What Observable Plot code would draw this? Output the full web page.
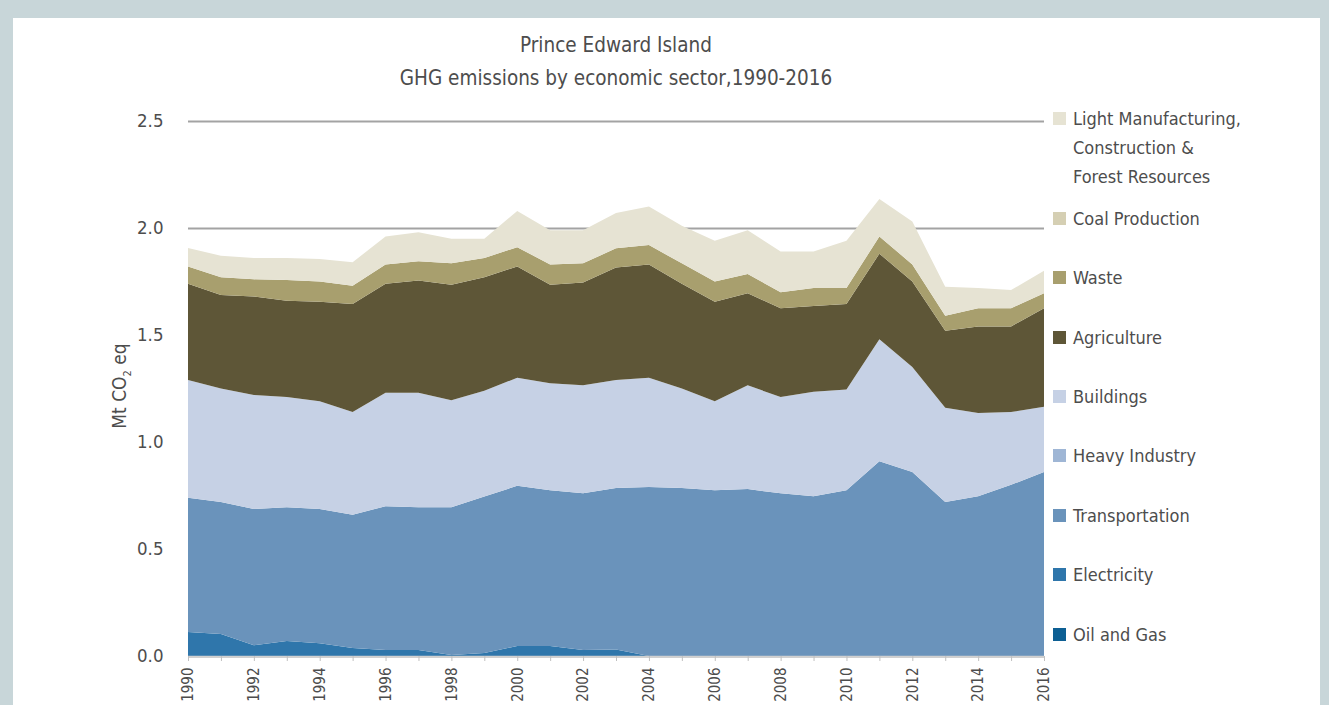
<!DOCTYPE html>
<html>
<head>
<meta charset="utf-8">
<script src="https://cdn.jsdelivr.net/npm/d3@7"></script>
<script src="https://cdn.jsdelivr.net/npm/@observablehq/plot@0.6"></script>
<style>
html, body { margin: 0; padding: 0; }
body {
  width: 1329px; height: 705px; overflow: hidden; position: relative;
  background: #c8d6d9;
  font-family: "Liberation Sans Narrow", "DejaVu Sans Condensed", "Roboto Condensed", "Open Sans", sans-serif;
  font-stretch: condensed;
  color: #4d4d4d;
}
#panel { position: absolute; left: 13px; top: 18px; width: 1307px; height: 700px; background: #fff; }
#chart { position: absolute; left: 0; top: 0; }
.title { position: absolute; left: 188px; width: 856px; text-align: center; font-size: 20.5px; line-height: 24px; white-space: nowrap; }
#ylabel { position: absolute; left: 121px; top: 386px; transform: translate(-50%, -50%) rotate(-90deg); font-size: 19px; white-space: nowrap; }
#ylabel sub { font-size: 11px; }
.leg { position: absolute; left: 1053px; font-size: 18px; line-height: 29px; white-space: nowrap; }
.leg .sw { position: absolute; left: 0; top: 8px; width: 13px; height: 13px; }
.leg .tx { position: absolute; left: 20px; top: 0; }
</style>
</head>
<body>
<div id="panel"></div>
<div id="chart"></div>
<div class="title" style="top:33px">Prince Edward Island</div>
<div class="title" style="top:66px">GHG emissions by economic sector,1990-2016</div>
<div id="ylabel">Mt CO<sub>2</sub> eq</div>
<div id="legend"></div>
<script>
const years = [1990,1991,1992,1993,1994,1995,1996,1997,1998,1999,2000,2001,2002,2003,2004,2005,2006,2007,2008,2009,2010,2011,2012,2013,2014,2015,2016];

// bottom-to-top stacking order
const sectors = ["Oil and Gas","Electricity","Transportation","Heavy Industry","Buildings","Agriculture","Waste","Coal Production","Light Manufacturing, Construction & Forest Resources"];
const sectorColors = ["#0d5f93","#2f76ab","#6a93bb","#9fb6d5","#c6d1e5","#5e5637","#a89f6e","#d5cfb3","#e6e3d3"];
const legendLabels = [["Oil and Gas"],["Electricity"],["Transportation"],["Heavy Industry"],["Buildings"],["Agriculture"],["Waste"],["Coal Production"],["Light Manufacturing,","Construction &","Forest Resources"]];

// Mt CO2 eq
const oilAndGas      = [0,0,0,0,0,0,0,0,0,0,0,0,0,0,0,0,0,0,0,0,0,0,0,0,0,0,0];
const electricity    = [0.112,0.103,0.050,0.070,0.060,0.037,0.028,0.028,0.005,0.014,0.047,0.047,0.028,0.030,0,0,0,0,0,0,0,0,0,0,0,0,0];
const transportation = [0.628,0.617,0.637,0.625,0.627,0.623,0.672,0.667,0.690,0.731,0.748,0.728,0.732,0.755,0.790,0.785,0.775,0.780,0.760,0.747,0.775,0.910,0.860,0.720,0.747,0.800,0.860];
const heavyIndustry  = [0,0,0,0,0,0,0,0,0,0,0,0,0,0,0,0,0,0,0,0,0,0,0,0,0,0,0];
const buildings      = [0.550,0.530,0.533,0.515,0.503,0.480,0.530,0.535,0.500,0.495,0.505,0.500,0.505,0.505,0.510,0.465,0.415,0.485,0.450,0.488,0.470,0.570,0.490,0.440,0.388,0.340,0.305];
const agriculture    = [0.450,0.437,0.460,0.450,0.465,0.505,0.510,0.525,0.540,0.530,0.520,0.460,0.480,0.525,0.530,0.490,0.465,0.430,0.415,0.400,0.400,0.400,0.400,0.360,0.405,0.400,0.460];
const waste          = [0.080,0.083,0.080,0.097,0.095,0.085,0.090,0.090,0.100,0.090,0.090,0.095,0.090,0.090,0.090,0.095,0.095,0.090,0.075,0.085,0.075,0.080,0.080,0.070,0.085,0.085,0.070];
const coalProduction = [0,0,0,0,0,0,0,0,0,0,0,0,0,0,0,0,0,0,0,0,0,0,0,0,0,0,0];
const lightManufacturing = [0.086,0.100,0.100,0.103,0.105,0.110,0.130,0.135,0.115,0.090,0.170,0.160,0.155,0.165,0.180,0.175,0.190,0.205,0.190,0.170,0.220,0.175,0.200,0.135,0.095,0.085,0.105];

const yTicks = [0, 0.5, 1.0, 1.5, 2.0, 2.5];

const seriesValues = [oilAndGas, electricity, transportation, heavyIndustry, buildings, agriculture, waste, coalProduction, lightManufacturing];
const data = sectors.flatMap((s, i) => years.map((yr, j) => ({year: yr, sector: s, value: seriesValues[i][j]})));

const fontFam = '"Liberation Sans Narrow", "DejaVu Sans Condensed", "Roboto Condensed", "Open Sans", sans-serif';

const chart = Plot.plot({
  width: 1329,
  height: 705,
  marginLeft: 188,
  marginRight: 285,
  marginTop: 121,
  marginBottom: 49,
  x: {domain: [1990, 2016]},
  y: {domain: [0, 2.5]},
  color: {domain: sectors, range: sectorColors},
  style: {background: "transparent", fontFamily: fontFam, color: "#4d4d4d", overflow: "visible"},
  marks: [
    Plot.gridY(yTicks, {stroke: "#a3a3a3", strokeOpacity: 1, strokeWidth: 2}),
    Plot.areaY(data, {x: "year", y: "value", fill: "sector", order: sectors}),
    Plot.ruleY([0], {stroke: "#d0d0d0", strokeWidth: 1.5}),
    Plot.axisY({ticks: yTicks, tickFormat: d3.format(".1f"), tickSize: 0, tickPadding: 25, fontSize: 18.5, label: null, fill: "#4d4d4d"}),
    Plot.axisX({ticks: years, tickFormat: d => d % 2 === 0 ? String(d) : "", tickRotate: -90, tickSize: 5, tickPadding: 6, fontSize: 15, label: null, stroke: "#c0c0c0", fill: "#4d4d4d"})
  ]
});
document.getElementById("chart").appendChild(chart);

// legend (top to bottom = reverse of stacking order)
const legend = document.getElementById("legend");
sectors.forEach((s, i) => {
  const lines = legendLabels[i];
  let firstCenter = 634 - 59.4 * i;
  if (lines.length > 1) firstCenter = 634 - 59.4 * (i - 1) - 100;
  const item = document.createElement("div");
  item.className = "leg";
  item.style.top = (firstCenter - 14.5) + "px";
  const sw = document.createElement("div");
  sw.className = "sw";
  sw.style.background = sectorColors[i];
  const tx = document.createElement("div");
  tx.className = "tx";
  tx.innerHTML = lines.map(l => l.replace(/&/g, "&amp;")).join("<br>");
  item.appendChild(sw);
  item.appendChild(tx);
  legend.appendChild(item);
});
</script>
</body>
</html>
